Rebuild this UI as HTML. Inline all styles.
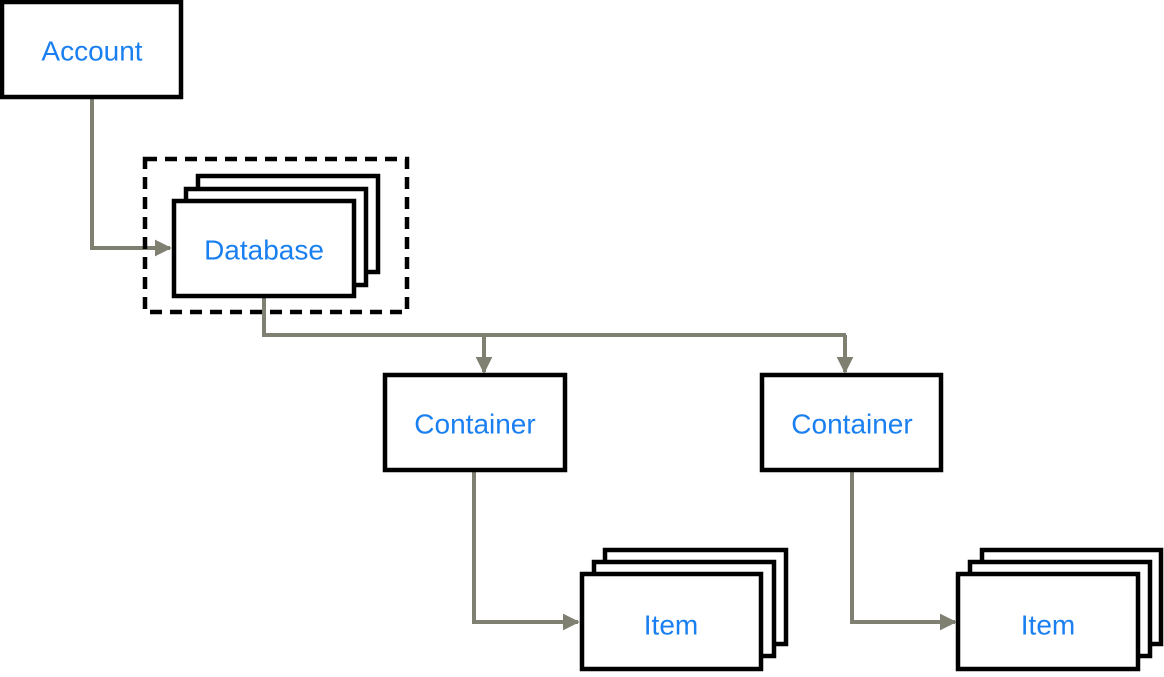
<!DOCTYPE html>
<html><head><meta charset="utf-8"><style>
html,body{margin:0;padding:0;background:#fff;}
svg text{font-family:"Liberation Sans",sans-serif;font-size:28px;fill:#1a7ff0;text-anchor:middle;dominant-baseline:central;}
</style></head><body>
<svg width="1164" height="672" viewBox="0 0 1164 672" xmlns="http://www.w3.org/2000/svg">
<defs>
<marker id="a" viewBox="0 0 10 10" refX="9" refY="5" markerWidth="4.2" markerHeight="4.2" markerUnits="strokeWidth" orient="auto">
<path d="M0,0L10,5L0,10z" fill="#7f7f72"/></marker>
</defs>
<g fill="none" stroke="#7f7f72" stroke-width="4">
<polyline points="92,99 92,248 170,248" marker-end="url(#a)"/>
<polyline points="264,298 264,335 846,335"/>
<line x1="484" y1="335" x2="484" y2="372" marker-end="url(#a)"/>
<line x1="845" y1="335" x2="845" y2="372" marker-end="url(#a)"/>
<polyline points="474,472 474,622 578,622" marker-end="url(#a)"/>
<polyline points="852,472 852,622 955,622" marker-end="url(#a)"/>
</g>
<rect x="145" y="159" width="262" height="153" fill="none" stroke="#000" stroke-width="4.5" stroke-dasharray="12,8"/>
<g fill="#fff" stroke="#000" stroke-width="4.5">
<rect x="2" y="2" width="179" height="95"/>
<rect x="198" y="176" width="180" height="96"/>
<rect x="186" y="189" width="180" height="96"/>
<rect x="174" y="201" width="180" height="95"/>
<rect x="385" y="375" width="180" height="95"/>
<rect x="762" y="375" width="179" height="95"/>
<rect x="605" y="550" width="181" height="94"/>
<rect x="594" y="562" width="180" height="94"/>
<rect x="582" y="574" width="179" height="95"/>
<rect x="982" y="550" width="179" height="94"/>
<rect x="970" y="562" width="180" height="94"/>
<rect x="958" y="574" width="180" height="95"/>
</g>
<text x="92" y="51">Account</text>
<text x="264" y="250">Database</text>
<text x="475" y="424">Container</text>
<text x="852" y="424">Container</text>
<text x="671" y="625">Item</text>
<text x="1048" y="625">Item</text>
</svg>
</body></html>
